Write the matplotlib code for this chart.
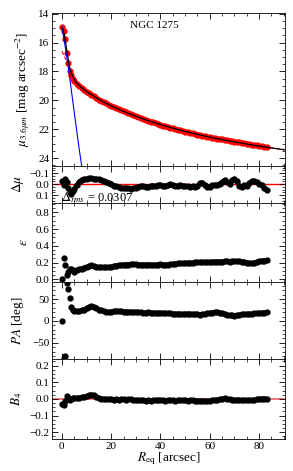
import numpy as np
import matplotlib
matplotlib.use("Agg")
import matplotlib.pyplot as plt
from matplotlib.ticker import MultipleLocator

plt.rcParams['font.family'] = ['Liberation Serif', 'DejaVu Serif']
plt.rcParams['mathtext.fontset'] = 'stix'
plt.rcParams['font.size'] = 8

# radii of the isophotes [arcsec]
R_eq = [0, 0.7, 1.3, 2.0, 2.6, 3.2, 3.8, 4.4] + list(range(5, 84))

# surface brightness data [mag arcsec^-2]
mu_data = [14.9, 15.2, 15.75, 16.7, 17.4, 17.95, 18.25, 18.5,
           18.65, 18.85, 19.0, 19.15, 19.28, 19.4, 19.5, 19.6, 19.72, 19.83,
           19.95, 20.05, 20.14, 20.22, 20.3, 20.38, 20.46, 20.54, 20.62, 20.69,
           20.77, 20.84, 20.9, 20.97, 21.04, 21.1, 21.16, 21.22, 21.29, 21.35,
           21.41, 21.47, 21.53, 21.59, 21.64, 21.7, 21.75, 21.8, 21.85, 21.9,
           21.95, 21.99, 22.03, 22.08, 22.13, 22.17, 22.21, 22.25, 22.29, 22.33,
           22.37, 22.41, 22.45, 22.49, 22.52, 22.55, 22.59, 22.62, 22.65, 22.68,
           22.71, 22.74, 22.77, 22.8, 22.83, 22.86, 22.89, 22.92, 22.95, 22.98,
           23.01, 23.04, 23.07, 23.1, 23.13, 23.16, 23.19, 23.22, 23.25]

# model lines
R_model = [0, 0.5, 1, 1.5, 2, 2.5, 3, 3.5, 4, 5, 6, 8, 10, 13, 16, 20, 25, 30,
           35, 40, 45, 50, 55, 60, 65, 70, 75, 80, 85, 90, 92]
mu_total = [14.95, 15.1, 15.45, 15.95, 16.55, 17.1, 17.6, 17.95, 18.2, 18.55,
            18.8, 19.12, 19.38, 19.72, 20.03, 20.38, 20.77, 21.1, 21.41, 21.68,
            21.93, 22.15, 22.36, 22.55, 22.72, 22.88, 23.03, 23.17, 23.3, 23.42, 23.47]
R_inner = [0, 1, 2, 3, 4, 5, 6, 7, 8, 9]
mu_inner = [14.95, 15.9, 17.0, 18.2, 19.5, 20.8, 22.1, 23.35, 24.5, 25.6]
R_outer = [0, 1, 2, 3, 4, 5, 6, 8, 10, 13, 16, 20, 25, 30, 35, 40, 45, 50,
           55, 60, 65, 70, 75, 80, 85, 90, 92]
mu_outer = [16.6, 16.95, 17.3, 17.7, 18.1, 18.45, 18.75, 19.1, 19.38, 19.72,
            20.03, 20.38, 20.77, 21.1, 21.41, 21.68, 21.93, 22.15, 22.36, 22.55,
            22.72, 22.88, 23.03, 23.17, 23.3, 23.42, 23.47]

# residuals
dmu = [-0.03, 0.01, -0.045, -0.02, 0.03, 0.07, 0.085, 0.06,
       0.04, 0.01, -0.02, -0.04, -0.048, -0.05, -0.052, -0.053, -0.05, -0.048,
       -0.045, -0.04, -0.03, -0.02, -0.01, 0.0, 0.012, 0.02, 0.028, 0.033,
       0.036, 0.035, 0.038, 0.04, 0.036, 0.03, 0.022, 0.015, 0.02, 0.026,
       0.022, 0.015, 0.012, 0.018, 0.01, 0.005, 0.012, 0.016, 0.01, 0.002,
       0.01, 0.018, 0.012, 0.006, 0.014, 0.018, 0.02, 0.024, 0.02, 0.028,
       0.02, -0.01, -0.015, 0.01, 0.025, 0.022, 0.01, 0.005, 0.01, -0.005,
       -0.02, -0.038, -0.02, 0.0, -0.035, -0.05, -0.03, 0.02, 0.025, 0.01,
       0.015, -0.01, -0.028, -0.03, -0.02, -0.005, 0.01, 0.03, 0.055]

# ellipticity
ell = [0.0, 0.25, 0.17, 0.05, 0.09, 0.12, 0.13, 0.11,
       0.09, 0.11, 0.12, 0.13, 0.14, 0.15, 0.16, 0.17, 0.16, 0.15,
       0.148, 0.146, 0.145, 0.145, 0.147, 0.15, 0.16, 0.166, 0.17, 0.172,
       0.175, 0.177, 0.178, 0.18, 0.182, 0.18, 0.178, 0.176, 0.175, 0.176,
       0.178, 0.176, 0.174, 0.175, 0.178, 0.18, 0.178, 0.176, 0.177, 0.18,
       0.184, 0.188, 0.19, 0.192, 0.193, 0.195, 0.197, 0.198, 0.2, 0.202,
       0.203, 0.204, 0.206, 0.207, 0.205, 0.207, 0.21, 0.211, 0.212, 0.213,
       0.212, 0.214, 0.215, 0.213, 0.214, 0.216, 0.217, 0.215, 0.213, 0.21,
       0.2, 0.195, 0.19, 0.2, 0.21, 0.218, 0.222, 0.224, 0.226]

# position angle [deg]
pa = [0.0, -84, -81, 86, 72, 52, 32, 25,
      23, 22, 22, 24, 26, 29, 32, 34, 32, 29,
      26, 24, 22, 21, 20, 21, 22, 23, 22.5, 22,
      21.5, 21, 21, 20.5, 20, 20.5, 20, 19.5, 19, 19,
      19.5, 19, 18.5, 18, 18, 18.5, 18, 17.5, 17, 17,
      16.5, 16, 16.5, 16, 15.5, 16, 16.5, 16, 15.5, 15,
      15, 14.5, 15, 16, 17, 18, 19, 19.5, 20.5, 19,
      17, 16, 14, 13, 12.5, 12, 13, 14, 15, 15.5,
      16, 16, 16.5, 17, 17.5, 18, 18.5, 19, 20]

# B4 coefficient
b4 = [-0.03, -0.035, -0.015, 0.015, 0.005, -0.005, 0.0, 0.004,
      0.006, 0.005, 0.008, 0.01, 0.012, 0.016, 0.022, 0.026, 0.022, 0.014,
      0.006, 0.002, 0.0, -0.002, -0.003, -0.002, -0.004, -0.003, -0.004, -0.002,
      -0.003, -0.004, -0.002, -0.003, -0.006, -0.008, -0.007, -0.009, -0.008, -0.01,
      -0.009, -0.01, -0.008, -0.009, -0.007, -0.006, -0.008, -0.01, -0.008, -0.009,
      -0.007, -0.01, -0.008, -0.009, -0.007, -0.008, -0.01, -0.009, -0.008, -0.01,
      -0.011, -0.012, -0.01, -0.012, -0.014, -0.013, -0.008, -0.006, -0.005, -0.003,
      0.0, 0.003, 0.0, -0.002, -0.004, -0.006, -0.005, -0.006, -0.008, -0.007,
      -0.008, -0.009, -0.008, -0.006, -0.003, 0.0, 0.002, 0.002, 0.001]

fig, axes = plt.subplots(5, 1, figsize=(2.93, 4.71), dpi=100, sharex=True,
                         gridspec_kw={'height_ratios': [153, 37, 79, 77, 80]})
fig.subplots_adjust(left=0.1775, right=0.9727, top=0.9724, bottom=0.068, hspace=0)
ax1, ax2, ax3, ax4, ax5 = axes

ms = 3.5
n_in = 8  # the inner isophotes are drawn as loose points, the rest as a band


def band(ax, x, y, color, zorder=2):
    ax.plot(x[n_in - 1:], y[n_in - 1:], '-', color=color, lw=3.2,
            solid_capstyle='round', zorder=zorder)
    ax.plot(x, y, 'o', color=color, mec=color, ms=ms, zorder=zorder)


band(ax1, R_eq, mu_data, 'red')
ax1.plot(R_outer, mu_outer, '--', color='red', lw=0.8, zorder=1)
ax1.plot(R_inner, mu_inner, '-', color='blue', lw=0.8, zorder=3)
ax1.plot(R_model, mu_total, '-', color='black', lw=0.9, zorder=4)
ax1.set_ylim(24.55, 13.95)
ax1.yaxis.set_major_locator(MultipleLocator(2))
ax1.yaxis.set_minor_locator(MultipleLocator(0.5))
ax1.set_ylabel(r'$\mu_{3.6\mu m}$ [mag arcsec$^{-2}$]', fontsize=9.5)
ax1.text(0.44, 0.92, 'NGC 1275', transform=ax1.transAxes, ha='center', va='center', fontsize=8)

ax2.axhline(0, color='red', lw=1, zorder=1)
band(ax2, R_eq, dmu, 'black')
ax2.set_ylim(0.17, -0.165)
ax2.yaxis.set_major_locator(MultipleLocator(0.1))
ax2.yaxis.set_minor_locator(MultipleLocator(0.025))
ax2.set_ylabel(r'$\Delta\mu$', fontsize=9.5, labelpad=2)
ax2.text(0.04, 0.14, r'$\Delta_{rms}$ = 0.0307', transform=ax2.transAxes,
         ha='left', va='center', fontsize=9)

band(ax3, R_eq, ell, 'black')
ax3.set_ylim(-0.03, 0.91)
ax3.yaxis.set_major_locator(MultipleLocator(0.2))
ax3.yaxis.set_minor_locator(MultipleLocator(0.05))
ax3.set_ylabel(r'$\epsilon$', fontsize=9.5)

band(ax4, R_eq, pa, 'black')
ax4.set_ylim(-87, 89)
ax4.yaxis.set_major_locator(MultipleLocator(50))
ax4.yaxis.set_minor_locator(MultipleLocator(10))
ax4.set_ylabel(r'$PA$ [deg]', fontsize=9.5)

ax5.axhline(0, color='#f06060', lw=1.2, zorder=1)
band(ax5, R_eq, b4, 'black')
ax5.set_ylim(-0.24, 0.24)
ax5.yaxis.set_major_locator(MultipleLocator(0.1))
ax5.yaxis.set_minor_locator(MultipleLocator(0.025))
ax5.set_ylabel(r'$B_4$', fontsize=9.5)
ax5.set_xlabel(r'$R_{\rm eq}$ [arcsec]', fontsize=9.5, labelpad=0)

ax5.set_xlim(-4, 90.5)
ax5.xaxis.set_major_locator(MultipleLocator(20))
ax5.xaxis.set_minor_locator(MultipleLocator(5))

for ax in axes:
    ax.tick_params(which='both', direction='in', top=True, right=True, labelsize=8, pad=2)
    ax.tick_params(which='major', length=4, width=0.6)
    ax.tick_params(which='minor', length=2, width=0.5)
    for s in ax.spines.values():
        s.set_linewidth(0.6)

fig.savefig('out.png', dpi=100)
